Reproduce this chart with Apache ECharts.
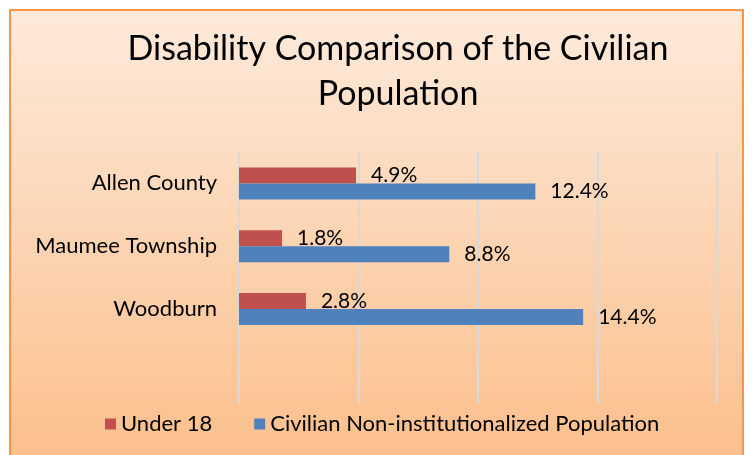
<!DOCTYPE html>
<html>
<head>
<meta charset="utf-8">
<script src="https://cdn.jsdelivr.net/npm/echarts@6/dist/echarts.min.js"></script>
<style>
  html, body { margin: 0; padding: 0; background: #fff; }
  #chart { width: 752px; height: 455px; }
</style>
</head>
<body>
<div id="chart"></div>
<script>
const titleText = 'Disability Comparison of the Civilian\nPopulation'
const categories = ['Allen County', 'Maumee Township', 'Woodburn', '']
const seriesNames = ['Under 18', 'Civilian Non-institutionalized Population']
const under18 = [4.9, 1.8, 2.8, null]
const civilian = [12.4, 8.8, 14.4, null]
const colors = ['#c0504d', '#4f81bd']

const font = 'Lato, "Open Sans", sans-serif'
const chart = echarts.init(document.getElementById('chart'))

const labelOpt = {
  show: true,
  position: 'right',
  distance: 15,
  color: '#000',
  fontSize: 21,
  fontFamily: font,
  formatter: p => p.value.toFixed(1) + '%'
}

chart.setOption({
  animation: false,
  color: colors,
  graphic: [{
    type: 'rect',
    z: -10,
    silent: true,
    shape: { x: 10, y: 10, width: 733, height: 460 },
    style: {
      fill: new echarts.graphic.LinearGradient(0, 0, 0, 1, [
        { offset: 0, color: '#fdeadb' },
        { offset: 1, color: '#fbbe8a' }
      ]),
      stroke: '#f79646',
      lineWidth: 2
    }
  }],
  title: {
    text: titleText,
    left: 393,
    top: 22,
    textAlign: 'center',
    textStyle: { fontSize: 34, fontWeight: 'normal', color: '#000', fontFamily: font, lineHeight: 45 }
  },
  legend: {
    data: seriesNames,
    left: 100,
    top: 408,
    itemWidth: 11,
    itemHeight: 11,
    itemGap: 42,
    icon: 'rect',
    textStyle: { fontSize: 22, color: '#000', fontFamily: font }
  },
  grid: { left: 239, right: 35, top: 152, bottom: 52, containLabel: false },
  xAxis: {
    type: 'value',
    min: 0,
    max: 20,
    interval: 5,
    axisLabel: { show: false },
    axisLine: { show: false },
    axisTick: { show: false },
    splitLine: { lineStyle: { color: '#d9d9d9', width: 2 } }
  },
  yAxis: {
    type: 'category',
    data: categories,
    inverse: true,
    axisLine: { show: false },
    axisTick: { show: false },
    axisLabel: { fontSize: 22, color: '#000', fontFamily: font, margin: 22 }
  },
  series: [
    { name: seriesNames[0], type: 'bar', data: under18, barWidth: 16, barGap: '0%', label: labelOpt },
    { name: seriesNames[1], type: 'bar', data: civilian, barWidth: 16, barGap: '0%', label: labelOpt }
  ]
})
</script>
</body>
</html>
